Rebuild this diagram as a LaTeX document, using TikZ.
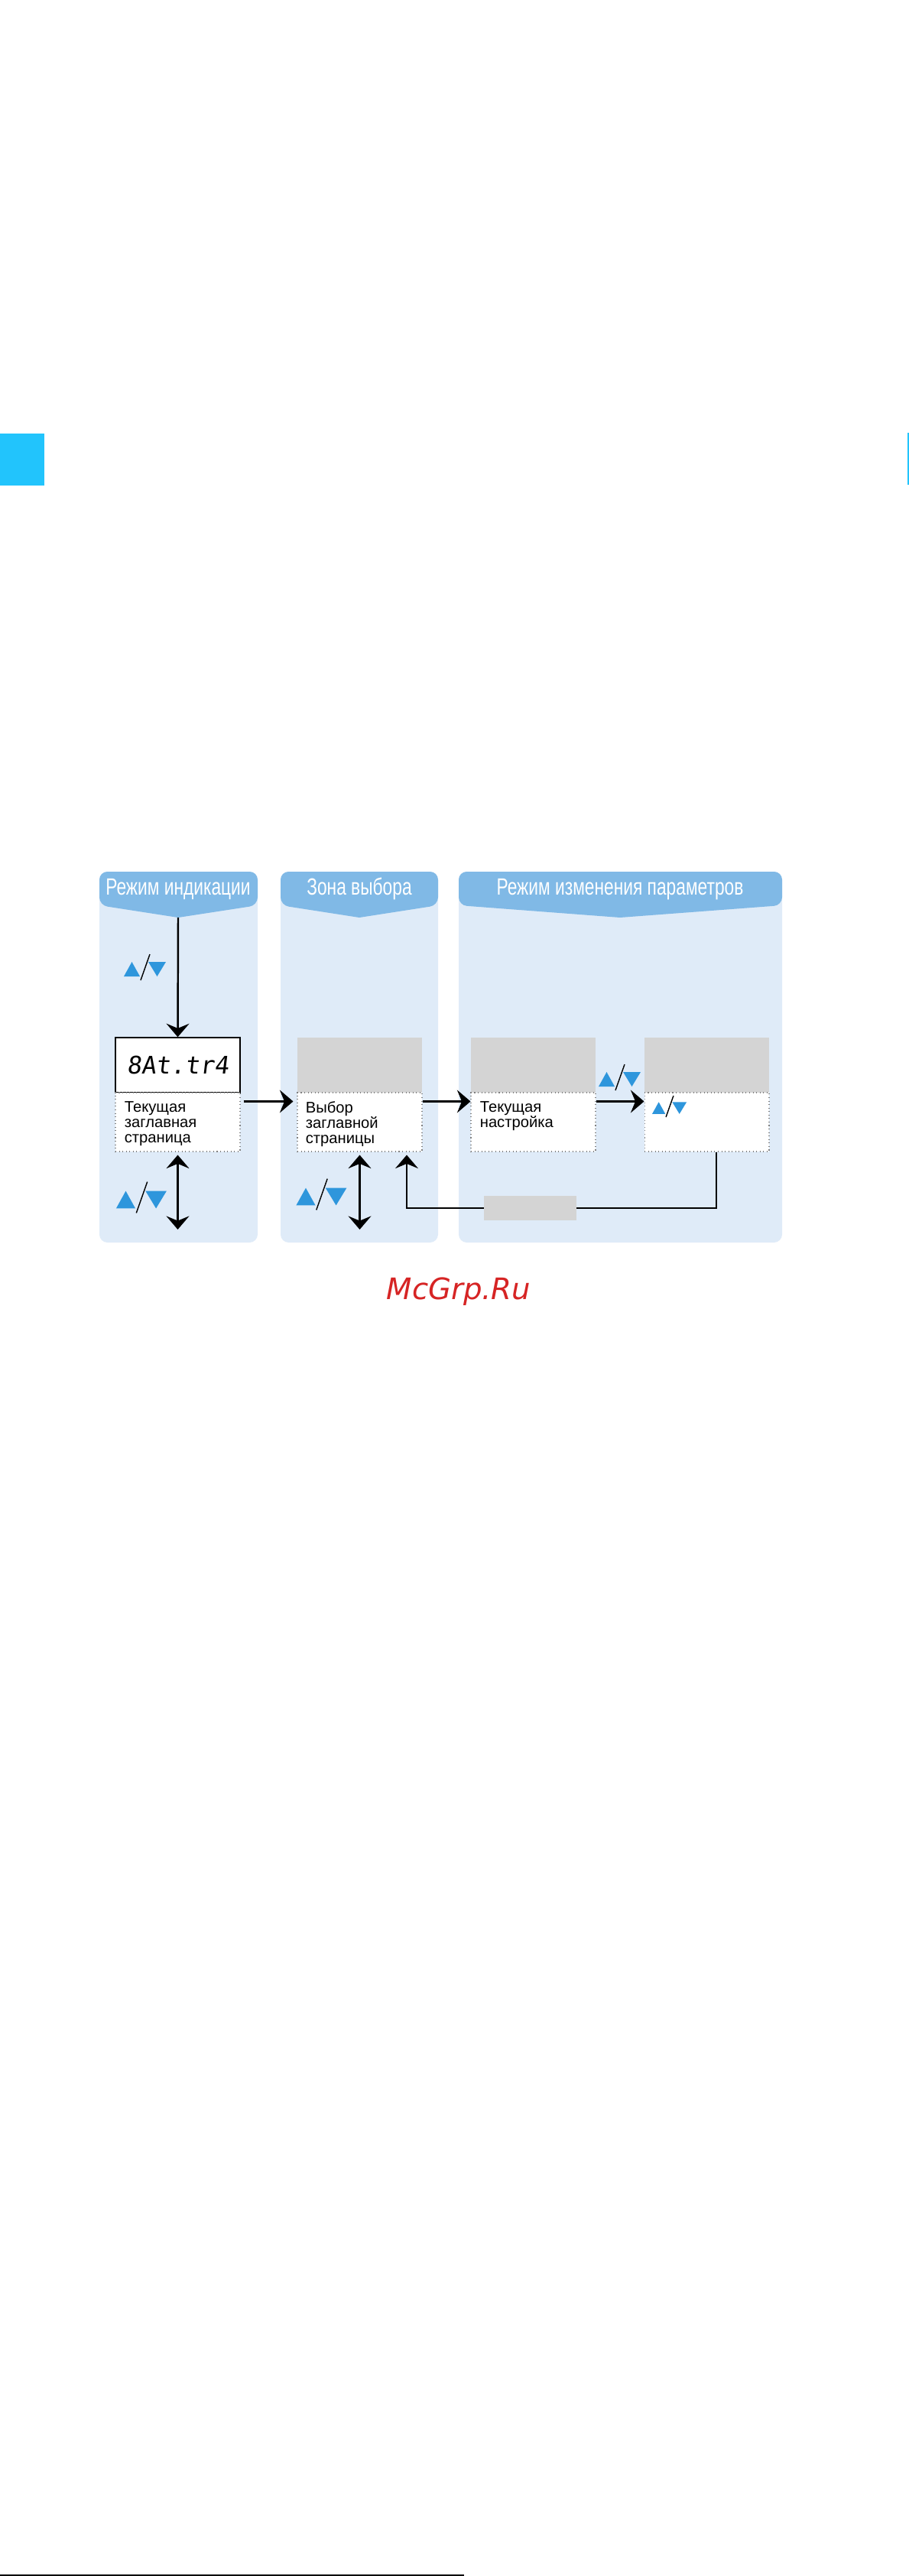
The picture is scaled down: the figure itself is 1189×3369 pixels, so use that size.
\documentclass[tikz,border=0pt]{standalone}
\usepackage{fontspec}
\setmainfont{Liberation Sans}
\newfontfamily\hdrfont[FakeStretch=0.74]{Liberation Sans}
\newfontfamily\segfont[FakeSlant=0.12]{DejaVu Sans Mono}
\newfontfamily\wmfont{DejaVu Sans}
\usetikzlibrary{arrows.meta}
\definecolor{panelbg}{HTML}{DFEBF8}
\definecolor{hdrblue}{HTML}{80B9E6}
\definecolor{keyblue}{HTML}{2E96DC}
\definecolor{dispgray}{HTML}{D4D4D4}
\definecolor{tabblue}{HTML}{22C4FC}
\definecolor{wmred}{HTML}{D62424}
\tikzset{
  hdrtext/.style={text=white, font=\hdrfont\fontsize{17.5}{18}\selectfont, inner sep=0pt, anchor=base},
  disp/.style={minimum width=3.26cm, minimum height=1.44cm, inner sep=0pt},
  lbl/.style={minimum width=3.26cm, minimum height=1.54cm, inner sep=0pt, fill=white, draw=gray, dotted, line width=0.6pt},
  lbltext/.style={anchor=north west, inner sep=0pt, align=left, font=\fontsize{11.5}{11.3}\selectfont},
  arr/.style={line width=1.4pt, -{Stealth[length=10pt,width=17pt,inset=3.5pt]}},
  dbl/.style={line width=1.4pt, {Stealth[length=10pt,width=17pt,inset=3.5pt]}-{Stealth[length=10pt,width=17pt,inset=3.5pt]}}
}
% panel: x1, x2, middle, name, title
\newcommand{\panel}[5]{
  \fill[panelbg, rounded corners=6pt] (#1,1140) rectangle (#2,1625);
  \fill[hdrblue] (#3,1200) [rounded corners=6pt]-- (#1,1184) -- (#1,1140) -- (#2,1140) -- (#2,1184) [sharp corners]-- cycle;
  \coordinate (#4) at (#3,1200);
  \node[hdrtext] (#4t) at (#3,1170) {#5};}
% up/down keys: x, y, scale
\newcommand{\updn}[3]{
  \begin{scope}[shift={(#1,#2)}, scale=#3]
    \fill[keyblue] (-28,12) -- (-7,12) -- (-17.5,-7) -- cycle;
    \fill[keyblue] (4,-7) -- (27,-7) -- (15.5,12) -- cycle;
    \draw[line width=0.8pt] (-6,17) -- (6,-17);
  \end{scope}}

\begin{document}
\begin{tikzpicture}[x=0.02cm, y=-0.02cm]
  \useasboundingbox (0,0) rectangle (1189,3369);
  % page marks
  \fill[tabblue] (0,567) rectangle (58,635);
  \fill[tabblue] (1187,566) rectangle (1189,634);
  \draw[line width=1.2pt] (0,3368) -- (607,3368);

  % panels
  \panel{130}{337}{233}{p1}{Режим индикации}
  \panel{367}{573}{470}{p2}{Зона выбора}
  \panel{600}{1023}{811}{p3}{Режим изменения параметров}

  % row of boxes
  \node[disp, fill=white, draw=black, line width=0.8pt] (d1) at (232.5,1393) {\segfont\fontsize{18}{18}\selectfont 8At.tr4};
  \node[disp, fill=dispgray] (d2) at (470.5,1393) {};
  \node[disp, fill=dispgray] (d3) at (697.5,1393) {};
  \node[disp, fill=dispgray] (d4) at (924.5,1393) {};

  \node[lbl] (l1) at (232.5,1467.5) {};
  \node[lbl] (l2) at (470.5,1467.5) {};
  \node[lbl] (l3) at (697.5,1467.5) {};
  \node[lbl] (l4) at (924.5,1467.5) {};

  \node[lbltext] (t1) at ([shift={(12,12)}]l1.north west) {Текущая\\заглавная\\страница};
  \node[lbltext] (t2) at ([shift={(11,12)}]l2.north west) {Выбор\\заглавной\\страницы};
  \node[lbltext] (t3) at ([shift={(12,12)}]l3.north west) {Текущая\\настройка};

  % keys
  \updn{190}{1265}{1}
  \updn{185.5}{1566}{1.2}
  \updn{421}{1562}{1.2}
  \updn{811}{1409}{1}
  \updn{876}{1447}{0.82}

  % arrows
  \draw[arr] (p1) -- (d1.north);
  \draw[arr] ([shift={(4,12)}]l1.north east) -- ([shift={(-5,12)}]l2.north west);
  \draw[arr] ([shift={(0,12)}]l2.north east) -- ([shift={(0,12)}]l3.north west);
  \draw[arr] ([shift={(0,12)}]l3.north east) -- ([shift={(0,12)}]l4.north west);

  \coordinate (b1) at (232.5,1608);
  \coordinate (b2) at (470.5,1608);
  \draw[dbl] ([shift={(0,4)}]l1.south) -- (b1);
  \draw[dbl] ([shift={(0,4)}]l2.south) -- (b2);

  % way back
  \node[minimum width=2.42cm, minimum height=0.64cm, inner sep=0pt, fill=dispgray] (r1) at (693.5,1580) {};
  \draw[line width=1.4pt] ([shift={(12.5,0)}]l4.south) |- (r1.east);
  \draw[arr] (r1.west) -| ([shift={(61.5,4)}]l2.south);

  % watermark
  \node[anchor=base, inner sep=0pt, text=wmred, font=\wmfont\itshape\fontsize{22}{22}\selectfont] (wm) at (600,1699) {McGrp.Ru};
\end{tikzpicture}
\end{document}
